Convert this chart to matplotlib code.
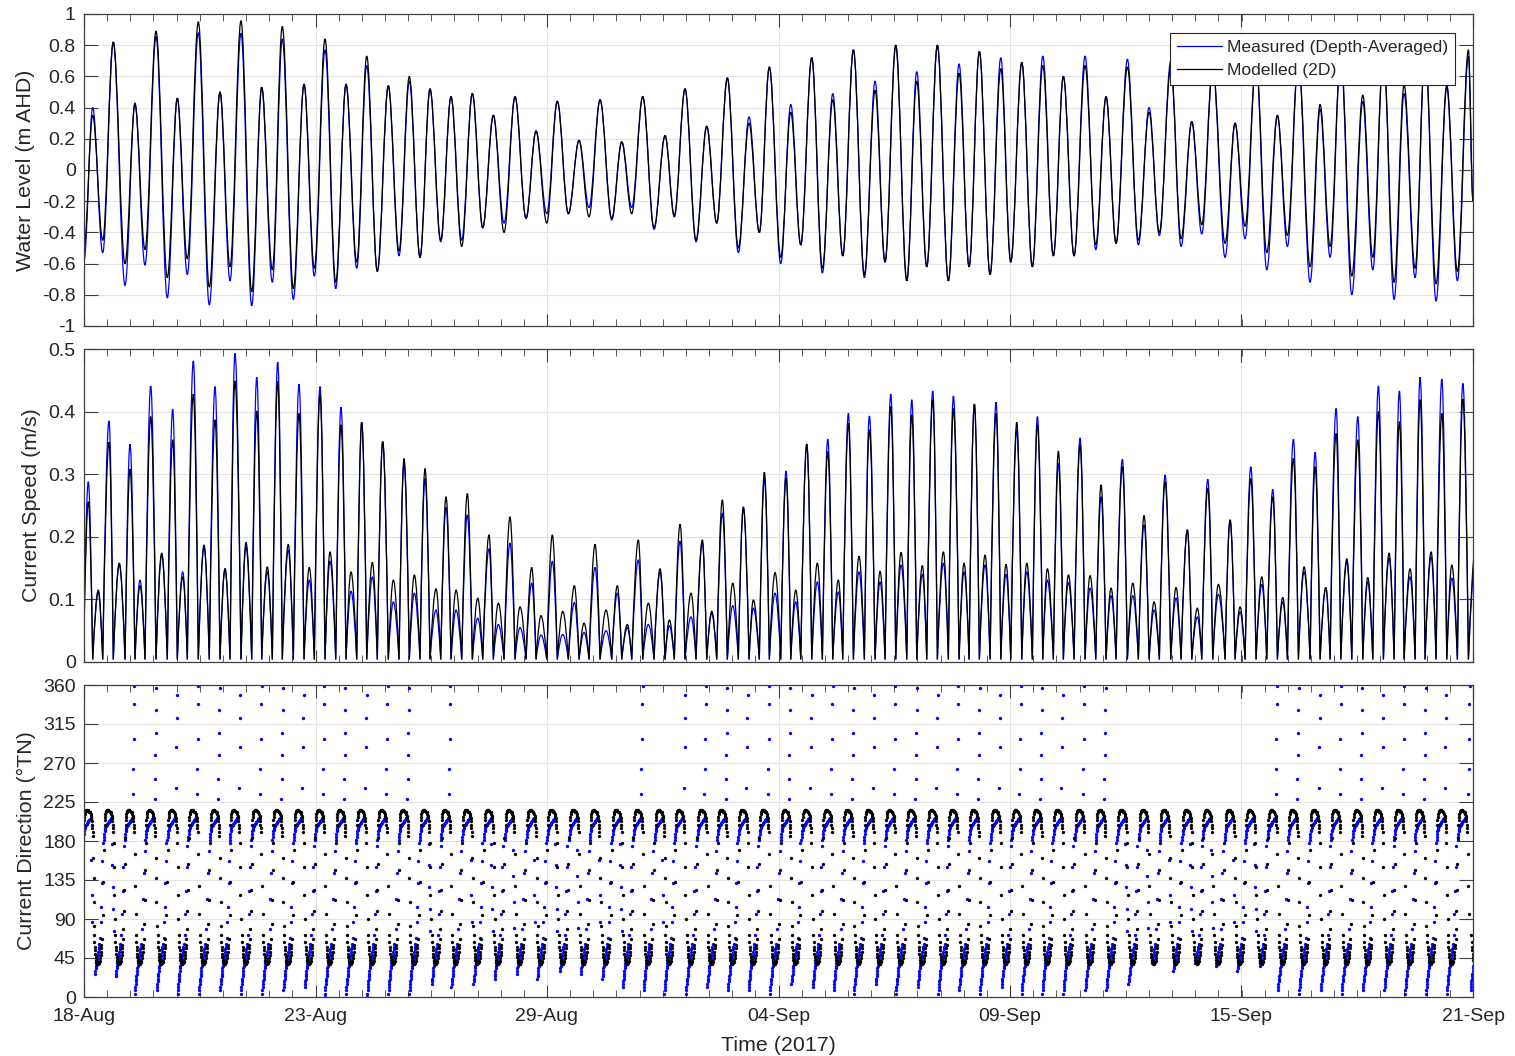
import numpy as np
import matplotlib
matplotlib.use("Agg")
import matplotlib.pyplot as plt
from matplotlib.path import Path
from matplotlib.patches import PathPatch
from matplotlib.ticker import FixedLocator, FixedFormatter, AutoMinorLocator

plt.rcParams["font.family"] = ["Liberation Sans", "DejaVu Sans"]
plt.rcParams["axes.unicode_minus"] = False
plt.rcParams["text.color"] = "#262626"

# time axis: days since 18-Aug-2017 00:00
xtick_pos = [0.0, 5.667, 11.333, 17.0, 22.667, 28.333, 34.0]
xtick_lab = ["18-Aug", "23-Aug", "29-Aug", "04-Sep", "09-Sep", "15-Sep", "21-Sep"]

# water level turning points (m AHD)
wl_time = [0.0, 0.213, 0.458, 0.717, 1.004, 1.248, 1.493, 1.763, 2.039, 2.284, 2.529, 2.798, 3.067, 3.329, 3.574,
           3.843, 4.105, 4.350, 4.610, 4.854, 5.124, 5.386, 5.638, 5.900, 6.162, 6.414, 6.676, 6.921, 7.180, 7.449,
           7.711, 7.963, 8.225, 8.470,
           8.732, 8.984, 9.246, 9.506, 9.760, 10.020, 10.282, 10.551, 10.820, 11.065, 11.327, 11.586, 11.856, 12.118,
           12.362, 12.632, 12.918, 13.163, 13.408, 13.677, 13.953, 14.223, 14.450, 14.712, 14.981, 15.243, 15.488,
           15.748, 16.017, 16.279, 16.531, 16.776, 17.055,
           17.300, 17.545, 17.814, 18.074, 18.328, 18.573, 18.833, 19.102, 19.364, 19.608, 19.870, 20.140, 20.384,
           20.629, 20.889, 21.158, 21.420, 21.665, 21.917, 22.179, 22.441, 22.685, 22.955, 23.214, 23.469, 23.728,
           23.973, 24.235, 24.504, 24.766, 25.018, 25.263, 25.540, 25.809,
           26.071, 26.323, 26.602, 26.854, 27.116, 27.361, 27.630, 27.931, 28.176, 28.421, 28.690, 28.952, 29.212,
           29.457, 29.726, 30.012, 30.257, 30.502, 30.764, 31.033, 31.302, 31.547, 31.807, 32.069, 32.313, 32.583,
           32.827, 33.096, 33.358, 33.618, 33.888, 34.0]
wl_meas = [-0.58, 0.40, -0.53, 0.82, -0.74, 0.43, -0.61, 0.855, -0.82, 0.46, -0.67, 0.88, -0.865, 0.50, -0.71,
           0.876, -0.87, 0.53, -0.72, 0.84, -0.83, 0.55, -0.68, 0.77, -0.76, 0.55, -0.63, 0.67, -0.65, 0.54,
           -0.55, 0.57, -0.56, 0.52,
           -0.46, 0.47, -0.45, 0.49, -0.37, 0.35, -0.34, 0.47, -0.31, 0.25, -0.28, 0.44, -0.28, 0.19,
           -0.24, 0.45, -0.32, 0.18, -0.24, 0.47, -0.38, 0.22, -0.29, 0.52, -0.46, 0.28, -0.34,
           0.59, -0.53, 0.34, -0.40, 0.66, -0.60,
           0.42, -0.48, 0.72, -0.66, 0.49, -0.55, 0.77, -0.69, 0.57, -0.59, 0.80, -0.71, 0.63,
           -0.62, 0.80, -0.71, 0.68, -0.62, 0.76, -0.67, 0.72, -0.59, 0.69, -0.62, 0.73, -0.55,
           0.60, -0.55, 0.73, -0.51, 0.47, -0.47, 0.71, -0.48,
           0.40, -0.42, 0.70, -0.49, 0.31, -0.41, 0.66, -0.56, 0.30, -0.44, 0.70, -0.64, 0.35,
           -0.49, 0.72, -0.72, 0.39, -0.56, 0.75, -0.80, 0.44, -0.64, 0.76, -0.83, 0.49, -0.69,
           0.78, -0.84, 0.53, -0.71, 0.73, -0.20]
wl_model = [-0.50, 0.35, -0.45, 0.82, -0.60, 0.42, -0.51, 0.89, -0.69, 0.46, -0.57, 0.95, -0.75, 0.50, -0.62,
            0.957, -0.78, 0.53, -0.64, 0.92, -0.76, 0.55, -0.63, 0.84, -0.72, 0.55, -0.59, 0.73, -0.65, 0.54,
            -0.52, 0.60, -0.56, 0.52,
            -0.45, 0.47, -0.49, 0.49, -0.37, 0.35, -0.40, 0.47, -0.31, 0.25, -0.34, 0.44, -0.28, 0.19,
            -0.30, 0.45, -0.31, 0.18, -0.28, 0.47, -0.37, 0.22, -0.30, 0.52, -0.45, 0.28, -0.34,
            0.59, -0.50, 0.30, -0.40, 0.66, -0.56,
            0.37, -0.48, 0.72, -0.63, 0.45, -0.55, 0.77, -0.67, 0.51, -0.59, 0.80, -0.71, 0.57,
            -0.62, 0.80, -0.71, 0.62, -0.62, 0.76, -0.67, 0.65, -0.59, 0.69, -0.62, 0.67, -0.55,
            0.60, -0.55, 0.67, -0.48, 0.47, -0.47, 0.66, -0.45,
            0.37, -0.40, 0.66, -0.44, 0.31, -0.35, 0.66, -0.47, 0.30, -0.36, 0.70, -0.53, 0.35,
            -0.42, 0.72, -0.62, 0.42, -0.49, 0.75, -0.68, 0.48, -0.56, 0.76, -0.72, 0.545, -0.63,
            0.78, -0.73, 0.545, -0.65, 0.77, -0.20]

# current speed peaks (m/s), alternating strong / weak; slack water falls on the water level turning points
spd_time = [0.105, 0.350, 0.612, 0.864, 1.126, 1.371, 1.633, 1.902, 2.171, 2.416, 2.676, 2.938, 3.207, 3.452,
            3.696, 3.966, 4.228, 4.487, 4.742, 5.001, 5.263, 5.515, 5.777, 6.022, 6.291, 6.536, 6.798, 7.058,
            7.312, 7.572, 7.834, 8.086, 8.348, 8.617,
            8.862, 9.107, 9.383, 9.638, 9.914, 10.142, 10.428, 10.673, 10.960, 11.187, 11.464, 11.719, 12.003,
            12.240, 12.509, 12.779, 13.055, 13.300, 13.569, 13.814, 14.100, 14.328, 14.590, 14.859, 15.136,
            15.366, 15.626, 15.880, 16.140, 16.384, 16.654, 16.916, 17.185,
            17.422, 17.692, 17.951, 18.206, 18.465, 18.710, 18.972, 19.224, 19.486, 19.748, 20.000, 20.262,
            20.522, 20.776, 21.036, 21.281, 21.542, 21.795, 22.056, 22.326, 22.571, 22.833, 23.077, 23.337,
            23.582, 23.851, 24.096, 24.382, 24.627, 24.896, 25.141, 25.418, 25.672,
            25.949, 26.194, 26.463, 26.732, 27.009, 27.254, 27.508, 27.768, 28.054, 28.299, 28.561, 28.830,
            29.099, 29.344, 29.604, 29.866, 30.135, 30.397, 30.649, 30.911, 31.180, 31.425, 31.685, 31.946,
            32.198, 32.460, 32.705, 32.975, 33.237, 33.482, 33.752, 34.06]
spd_meas = [0.288, 0.112, 0.385, 0.155, 0.348, 0.131, 0.441, 0.171, 0.404, 0.144, 0.481, 0.184, 0.440, 0.149,
            0.493, 0.184, 0.455, 0.144, 0.479, 0.179, 0.444, 0.131, 0.440, 0.161, 0.407, 0.113, 0.383, 0.136,
            0.352, 0.096, 0.317, 0.110, 0.293, 0.083,
            0.247, 0.083, 0.235, 0.070, 0.181, 0.060, 0.190, 0.055, 0.126, 0.043, 0.161, 0.044, 0.095,
            0.047, 0.151, 0.050, 0.110, 0.055, 0.163, 0.060, 0.144, 0.058, 0.193, 0.072, 0.190,
            0.078, 0.238, 0.090, 0.248, 0.086, 0.293, 0.110, 0.305,
            0.096, 0.348, 0.128, 0.356, 0.112, 0.397, 0.144, 0.393, 0.128, 0.428, 0.155, 0.419,
            0.140, 0.433, 0.158, 0.425, 0.144, 0.412, 0.155, 0.415, 0.140, 0.371, 0.144, 0.392,
            0.131, 0.317, 0.127, 0.358, 0.118, 0.264, 0.106, 0.324, 0.106,
            0.219, 0.083, 0.299, 0.102, 0.211, 0.072, 0.292, 0.108, 0.227, 0.080, 0.312, 0.124,
            0.276, 0.096, 0.356, 0.144, 0.335, 0.119, 0.405, 0.160, 0.392, 0.128, 0.441, 0.166,
            0.433, 0.136, 0.455, 0.168, 0.452, 0.134, 0.445, 0.165]
spd_model = [0.256, 0.115, 0.351, 0.158, 0.308, 0.122, 0.392, 0.174, 0.355, 0.136, 0.428, 0.187, 0.387, 0.149,
             0.449, 0.191, 0.401, 0.152, 0.448, 0.188, 0.397, 0.151, 0.427, 0.176, 0.379, 0.144, 0.383, 0.159,
             0.352, 0.131, 0.325, 0.139, 0.309, 0.117,
             0.264, 0.115, 0.269, 0.102, 0.203, 0.094, 0.232, 0.088, 0.151, 0.074, 0.203, 0.081, 0.122,
             0.062, 0.188, 0.083, 0.122, 0.060, 0.195, 0.094, 0.149, 0.067, 0.220, 0.110, 0.195,
             0.081, 0.259, 0.126, 0.246, 0.099, 0.303, 0.143, 0.294,
             0.115, 0.348, 0.158, 0.336, 0.131, 0.381, 0.169, 0.371, 0.145, 0.408, 0.175, 0.395,
             0.154, 0.419, 0.176, 0.405, 0.158, 0.412, 0.171, 0.397, 0.156, 0.383, 0.158, 0.379,
             0.149, 0.337, 0.139, 0.347, 0.138, 0.283, 0.118, 0.312, 0.126,
             0.234, 0.096, 0.288, 0.119, 0.211, 0.086, 0.278, 0.124, 0.227, 0.088, 0.293, 0.136,
             0.264, 0.103, 0.325, 0.152, 0.312, 0.119, 0.365, 0.165, 0.355, 0.135, 0.400, 0.174,
             0.384, 0.149, 0.419, 0.176, 0.397, 0.155, 0.420, 0.18]
spd_start = [0.06, 0.05]      # measured, modelled at the left edge
spd_slack = 0.004

# current direction (deg TN): shape of one event, offsets in days from the speed peak
# weak peaks: flow to ~45 deg
flood_meas_dt = [-0.130, -0.124, -0.118, -0.112, -0.106, -0.100, -0.093, -0.086, -0.079, -0.071, -0.063,
                 -0.055, -0.047, -0.038, -0.029, -0.020, -0.011, -0.002, 0.008, 0.018, 0.028]
flood_meas_dir = [0, 4, 8, 12, 15, 18, 21, 24, 27, 30, 33, 36, 39, 42, 44, 47, 49, 52, 55, 58, 61]
flood_model_dt = [-0.100, -0.094, -0.085, -0.078, -0.072, -0.064, -0.055, -0.045, -0.033, -0.020, -0.006,
                  0.008, 0.022, 0.035, 0.046, 0.056, 0.064, 0.071, 0.077, 0.090]
flood_model_dir = [72, 64, 58, 54, 50, 46, 43, 41, 39, 38, 38, 39, 40, 42, 45, 48, 52, 56, 60, 67]
# strong peaks: flow to ~200 deg
ebb_meas_dt = [-0.130, -0.122, -0.114, -0.106, -0.097, -0.088, -0.078, -0.067, -0.055, -0.042, -0.028,
               -0.012, 0.005, 0.022, 0.040, 0.058]
ebb_meas_dir = [181, 185, 188, 191, 193, 195, 197, 198, 199, 200, 201, 202, 203, 204, 205, 206]
ebb_model_dt = [-0.110, -0.106, -0.100, -0.092, -0.080, -0.066, -0.050, -0.032, -0.014, 0.004, 0.022,
                0.040, 0.056, 0.068, 0.078, 0.085, 0.091, 0.097, 0.104]
ebb_model_dir = [199, 204, 208, 211, 213, 215, 216, 216, 216, 215, 214, 213, 211, 209, 206, 203, 199, 195, 190]

# slack water scatter, three observed variants of each turn
north_dt = [[-0.175, -0.166, -0.158, -0.150, -0.142, -0.135],
            [-0.170, -0.158, -0.147, -0.137],
            [-0.178, -0.168, -0.158, -0.148, -0.139]]
north_dir = [[228, 252, 279, 305, 331, 356],
             [241, 289, 322, 349],
             [234, 263, 298, 338, 359]]
south_dt = [[-0.180, -0.168, -0.156, -0.144],
            [-0.176, -0.160, -0.146],
            [-0.182, -0.171, -0.160, -0.150, -0.141]]
south_dir = [[170, 140, 110, 80],
             [158, 118, 87],
             [176, 152, 127, 101, 76]]
rise_dt = [[0.050, 0.065, 0.080, 0.095, 0.110],
           [0.055, 0.075, 0.095, 0.112],
           [0.048, 0.060, 0.072, 0.086, 0.100, 0.114]]
rise_dir = [[72, 96, 122, 150, 174],
            [79, 113, 143, 168],
            [68, 86, 104, 131, 157, 178]]
kup_dt = [[0.105, 0.118, 0.131, 0.144],
          [0.110, 0.127, 0.142],
          [0.100, 0.112, 0.124, 0.136, 0.147]]
kup_dir = [[84, 112, 146, 178],
           [95, 133, 170],
           [78, 99, 124, 153, 183]]
kdown_dt = [[0.112, 0.122, 0.132, 0.142],
            [0.115, 0.130, 0.144],
            [0.108, 0.118, 0.128, 0.137, 0.146]]
kdown_dir = [[178, 150, 118, 90],
             [165, 128, 96],
             [186, 160, 137, 110, 82]]

# per weak-peak event: lowest measured direction of the flood line, and whether it swung through north
flood_start = [25, 22, 2, 6, 4, 4, 6, 4, 4, 6, 10, 0, 4, 0, 4, 4, 14,
               10, 14, 20, 25, 20, 30, 25, 20, 10, 5, 3, 3,
               12, 6, 6, 2, 14, 10, 6, 4, 14, 2, 10, 4, 8, 4, 10, 4, 4,
               4, 6, 8,
               14, 37, 28, 37, 35, 28, 34, 8, 2, 8, 4, 6, 6, 4, 4, 4, 6]
via_north = [0, 0, 1, 1, 1, 1, 1, 1, 1, 1, 1, 1, 1, 1, 1, 1, 0,
             1, 0, 0, 0, 0, 0, 0, 0, 0, 1, 0, 1,
             1, 1, 1, 1, 1, 1, 1, 1, 1, 1, 1, 1, 1, 1, 1, 1, 1,
             1, 1, 1,
             0, 0, 0, 0, 0, 0, 0, 1, 1, 1, 1, 1, 1, 1, 1, 1, 1]

BLUE = "#0000ff"
AXC = "#404040"


# smooth tidal curve through turning points (flat at each turning point)
def tide_path(t, y):
    verts = [(t[0], y[0])]
    codes = [Path.MOVETO]
    for i in range(len(t) - 1):
        dt = t[i + 1] - t[i]
        verts += [(t[i] + 0.36 * dt, y[i]), (t[i + 1] - 0.36 * dt, y[i + 1]), (t[i + 1], y[i + 1])]
        codes += [Path.CURVE4] * 3
    return Path(verts, codes)


# speed curve: round at the peaks, sharp at slack water
def speed_path(t, y):
    verts = [(t[0], y[0])]
    codes = [Path.MOVETO]
    for i in range(len(t) - 1):
        dt = t[i + 1] - t[i]
        if y[i + 1] > y[i]:
            c1 = (t[i] + 0.334 * dt, y[i] + 0.525 * (y[i + 1] - y[i]))
            c2 = (t[i + 1] - 0.334 * dt, y[i + 1])
        else:
            c1 = (t[i] + 0.334 * dt, y[i])
            c2 = (t[i + 1] - 0.334 * dt, y[i + 1] + 0.525 * (y[i] - y[i + 1]))
        verts += [c1, c2, (t[i + 1], y[i + 1])]
        codes += [Path.CURVE4] * 3
    return Path(verts, codes)


# speed series with the slack points merged in
slack_t = wl_time[1:-1]
t_all = np.array([0.0] + spd_time + slack_t)
m_all = np.array([spd_start[0]] + spd_meas + [spd_slack] * len(slack_t))
k_all = np.array([spd_start[1]] + spd_model + [spd_slack] * len(slack_t))
order = np.argsort(t_all)

# direction points from the event shapes
big_t = spd_time[0::2]
small_t = spd_time[1::2]
bx, by, kx, ky = [], [], [], []
for i, t in enumerate(small_t):
    if via_north[i]:
        v = i % 3
        bx += [t + d for d in north_dt[v]]
        by += north_dir[v]
    else:
        v = (i + 1) % 3
        bx += [t + d for d in south_dt[v]]
        by += south_dir[v]
    for d, a in zip(flood_meas_dt, flood_meas_dir):
        if a >= flood_start[i]:
            bx.append(t + d)
            by.append(a)
    v = (i + 2) % 3
    bx += [t + d for d in rise_dt[v]]
    by += rise_dir[v]
    kx += [t + d for d in flood_model_dt]
    ky += flood_model_dir
    v = (i + 1) % 3
    kx += [t + d for d in kup_dt[v]]
    ky += kup_dir[v]
for j, t in enumerate(big_t):
    bx += [t + d for d in ebb_meas_dt]
    by += ebb_meas_dir
    kx += [t + d for d in ebb_model_dt]
    ky += ebb_model_dir
    v = (j + 2) % 3
    kx += [t + d for d in kdown_dt[v]]
    ky += kdown_dir[v]

fig = plt.figure(figsize=(15.15, 10.56), dpi=100)
W, H = 1515.0, 1056.0
left, width = 84 / W, 1389 / W
ax1 = fig.add_axes([left, 1 - 326 / H, width, 312 / H])
ax2 = fig.add_axes([left, 1 - 662 / H, width, 313 / H])
ax3 = fig.add_axes([left, 1 - 997 / H, width, 312 / H])

ax1.add_patch(PathPatch(tide_path(wl_time, wl_meas), fill=False, edgecolor=BLUE, lw=0.9))
ax1.add_patch(PathPatch(tide_path(wl_time, wl_model), fill=False, edgecolor="k", lw=0.9))
ax1.plot([], [], color=BLUE, lw=0.9, label="Measured (Depth-Averaged)")
ax1.plot([], [], color="k", lw=0.9, label="Modelled (2D)")
ax2.add_patch(PathPatch(speed_path(t_all[order], m_all[order]), fill=False, edgecolor=BLUE, lw=0.9))
ax2.add_patch(PathPatch(speed_path(t_all[order], k_all[order]), fill=False, edgecolor="k", lw=0.9))
ax3.plot(bx, by, ls="none", marker="o", ms=2.4, mew=0, color=BLUE)
ax3.plot(kx, ky, ls="none", marker="o", ms=2.4, mew=0, color="k")

yt1 = [-1, -0.8, -0.6, -0.4, -0.2, 0, 0.2, 0.4, 0.6, 0.8, 1]
yl1 = ["-1", "-0.8", "-0.6", "-0.4", "-0.2", "0", "0.2", "0.4", "0.6", "0.8", "1"]
yt2 = [0, 0.1, 0.2, 0.3, 0.4, 0.5]
yl2 = ["0", "0.1", "0.2", "0.3", "0.4", "0.5"]
yt3 = [0, 45, 90, 135, 180, 225, 270, 315, 360]
yl3 = ["0", "45", "90", "135", "180", "225", "270", "315", "360"]

for ax, yt, yl, lab in [(ax1, yt1, yl1, "Water Level (m AHD)"),
                        (ax2, yt2, yl2, "Current Speed (m/s)"),
                        (ax3, yt3, yl3, "Current Direction (\u00b0TN)")]:
    ax.set_xlim(0, 34)
    ax.set_ylim(yt[0], yt[-1])
    ax.yaxis.set_major_locator(FixedLocator(yt))
    ax.yaxis.set_major_formatter(FixedFormatter(yl))
    ax.xaxis.set_major_locator(FixedLocator(xtick_pos))
    ax.xaxis.set_minor_locator(AutoMinorLocator(10))
    ax.grid(True, which="major", color="#e3e3e3", lw=0.8)
    ax.set_axisbelow(True)
    for s in ax.spines.values():
        s.set_color(AXC)
        s.set_linewidth(0.9)
    ax.tick_params(which="both", direction="in", top=True, right=True, colors=AXC,
                   labelcolor="#262626", labelsize=14)
    ax.tick_params(axis="y", which="major", length=10, pad=6)
    ax.tick_params(axis="x", which="major", length=9, pad=8)
    ax.tick_params(axis="x", which="minor", length=5)
    ax.set_ylabel(lab, fontsize=15.4, color="#262626", labelpad=5)
    if ax is not ax3:
        ax.tick_params(axis="x", labelbottom=False)

ax3.xaxis.set_major_formatter(FixedFormatter(xtick_lab))
ax3.set_xlabel("Time (2017)", fontsize=15.4, color="#262626", labelpad=8)

leg = ax1.legend(loc="upper right", bbox_to_anchor=(0.987, 0.939), borderaxespad=0, fontsize=12.6,
                 frameon=True, fancybox=False, framealpha=1, edgecolor="#262626", handlelength=2.6,
                 handletextpad=0.25, labelspacing=0.45, borderpad=0.4)
leg.get_frame().set_linewidth(0.8)

fig.savefig("out.png", dpi=100)
